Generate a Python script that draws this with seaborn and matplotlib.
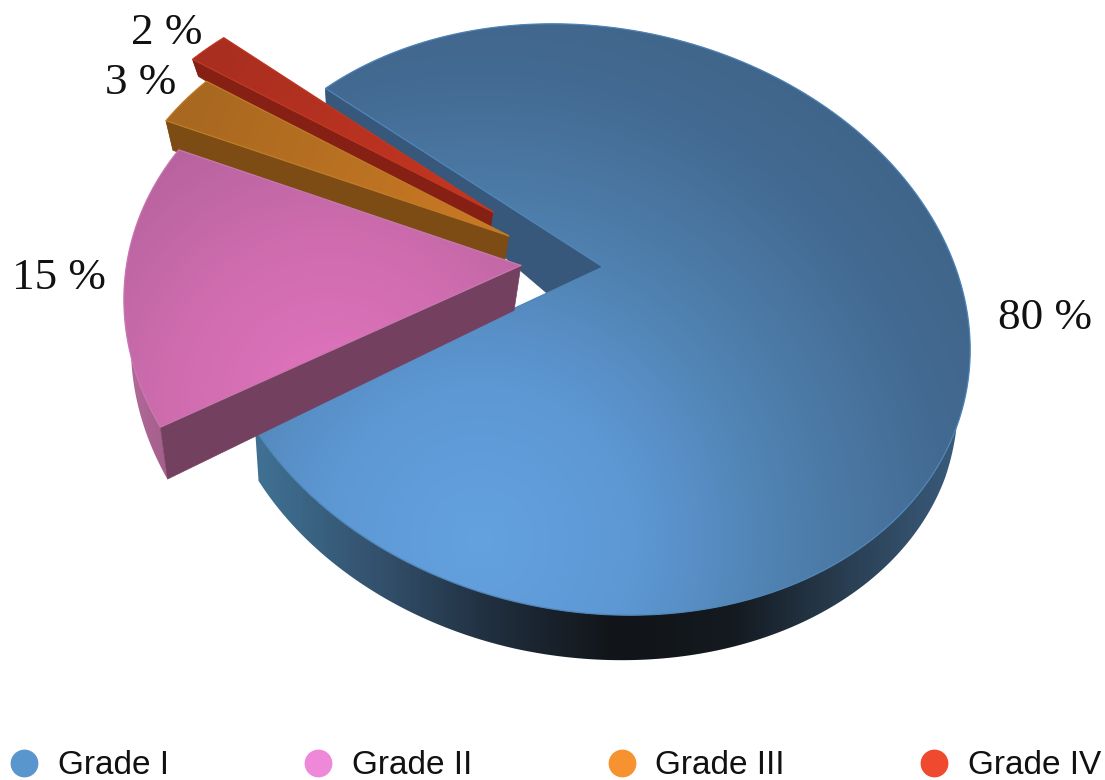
import numpy as np
import matplotlib
matplotlib.use("Agg")
import matplotlib.pyplot as plt
from matplotlib.colors import LinearSegmentedColormap as LSC
from matplotlib.lines import Line2D
from matplotlib.patches import Polygon
import seaborn as sns

grades = ["Grade I", "Grade II", "Grade III", "Grade IV"]
shares = [80, 15, 3, 2]
share_labels = ["80 %", "15 %", "3 %", "2 %"]
pulled_out = [0.0, 0.22, 0.28, 0.36]
legend_colors = ["#5A96CE", "#EF88D8", "#F69230", "#EF4A30"]

W, H = 1105, 780
CX, CY, A, B, K, S, J, T = 603, 267, 372, 285.5, 0.18, -0.05, 0.04, -0.06
RADIAL = [1.0, 0.99, 1.01, 1.02]
NUDGE_V = [0.0, 0.015, -0.03, -0.03]

sns.set_theme(style="white")
fig, ax = plt.subplots(figsize=(W / 100, H / 100), dpi=100)
fig.subplots_adjust(0, 0, 1, 1)
wedges, _ = ax.pie(shares, explode=pulled_out, startangle=140.9, counterclock=False, radius=1, frame=True)
geom = [(w.center, w.r, w.theta1, w.theta2) for w in wedges]
for w in wedges:
    w.remove()
ax.set_aspect("auto")
ax.set_xlim(0, W)
ax.set_ylim(H, 0)
ax.axis("off")

yy, xx = np.mgrid[0:H, 0:W] + 0.5


def project(u, v):
    q = 1 + K * v + J * u
    return CX + A * (u + S * v) / q, CY - B * (v + T * u) / q


def drop(x, y, extra=0.0):
    d = np.interp(y, [88, 122, 265, 425, 615], [17, 30, 45, 52, 45]) + extra
    return x + np.interp(x, [165, 345, 524, 970], [7, 0, -7, -12]), y + d


def painted(poly, field, stops, z, edge=None):
    cmap = LSC.from_list("s", stops)
    patch = Polygon(poly, closed=True, fc="none", ec="none", transform=ax.transData)
    ax.add_patch(patch)
    im = ax.imshow(np.clip(field, 0, 1), cmap=cmap, vmin=0, vmax=1, extent=(0, W, H, 0),
                   aspect="auto", zorder=z, interpolation="bilinear")
    im.set_clip_path(patch)
    if edge:
        ax.plot(*np.r_[poly, poly[:1]].T, color=edge, lw=0.9, zorder=z + 0.01, solid_joinstyle="round")


top_style = [
    (np.hypot(xx - 480, yy - 540) / 620, ["#63A1DF", "#5D98D4", "#4F80AE", "#436A92", "#3F6286"], "#4F86B8"),
    (np.hypot(xx - 330, yy - 400) / 330, ["#E274BE", "#CE6CAE", "#B0609A"], "#C878B0"),
    (np.hypot(xx - 510, yy - 240) / 350, ["#CC7A24", "#A86820"], "#C07C28"),
    (np.hypot(xx - 490, yy - 213) / 330, ["#C63620", "#A82E20"], "#C03822"),
]
rim_style = [
    ((xx - 262) / 708, ["#3F7092", "#33506C", "#1F2D3C", "#111418", "#141A20", "#2A4054", "#3C5E80"]),
    ((xx - 125) / 60, ["#B56A9A", "#9C5A86"]),
    ((xx - 165) / 60, ["#7C4C14", "#7C4C14"]),
    ((xx - 190) / 40, ["#7A1C12", "#7A1C12"]),
]
wall_colors = ["#37587A", "#74405F", "#7C4C14", "#861F14"]
apex_extra = [22, 0, 0, 0]
layer = [10, 40, 30, 20]

for i in [0, 3, 2, 1]:
    (c0, c1), r, t1, t2 = geom[i]
    c1 = c1 + NUDGE_V[i]
    r = r * RADIAL[i]
    th = np.radians(np.linspace(t1, t2, 361))
    ax_x, ax_y = project(c0 + r * np.cos(th), c1 + r * np.sin(th))
    ap_x, ap_y = project(np.array([c0]), np.array([c1]))
    z = layer[i]
    bx, by = drop(ax_x, ax_y)
    rim = np.c_[np.r_[ax_x, bx[::-1]], np.r_[ax_y, by[::-1]]]
    painted(rim, rim_style[i][0], rim_style[i][1], z)
    abx, aby = drop(ap_x, ap_y, apex_extra[i])
    wall = np.c_[[ap_x[0], ax_x[-1], bx[-1], abx[0]], [ap_y[0], ax_y[-1], by[-1], aby[0]]]
    ax.add_patch(Polygon(wall, closed=True, fc=wall_colors[i], ec=wall_colors[i], lw=0.5, zorder=z + 1))
    top = np.c_[np.r_[ap_x, ax_x], np.r_[ap_y, ax_y]]
    painted(top, top_style[i][0], top_style[i][1], z + 2, edge=top_style[i][2])

for txt, x, y in zip(share_labels, [998, 12, 105, 131], [318, 278, 83, 33]):
    ax.text(x, y, txt, family="Liberation Serif", fontsize=32.5, color="#111111", ha="left", va="center", zorder=60)

handles = [Line2D([], [], ls="", marker="o", ms=19, color=c, mec=c) for c in legend_colors]
ax.legend(handles, grades, ncol=4, frameon=False, loc="center left", bbox_to_anchor=(-0.005, 0.018),
          prop={"family": "Liberation Sans", "size": 24}, handletextpad=0.4, columnspacing=3.89,
          handlelength=1.2, borderpad=0, borderaxespad=0.3, labelcolor="#111111")

fig.savefig("out.png", dpi=100)
